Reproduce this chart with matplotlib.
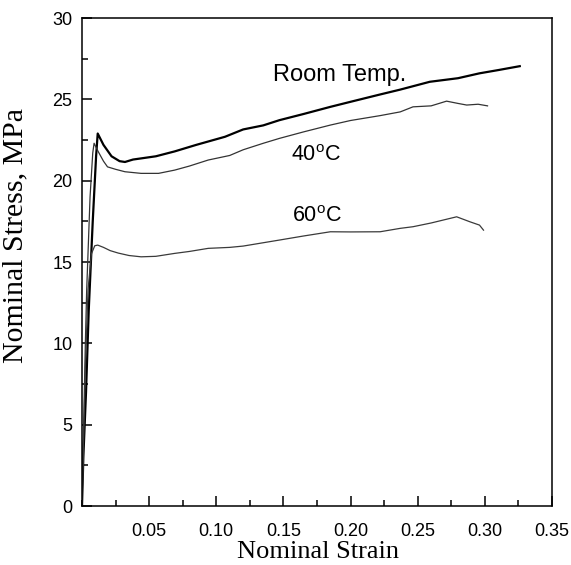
import matplotlib
matplotlib.use("Agg")
import matplotlib.pyplot as plt
from matplotlib.ticker import MultipleLocator, FixedLocator

# values (strain, stress in MPa)
room_strain = [0, 0.001, 0.003, 0.005, 0.008, 0.0105, 0.0117, 0.016, 0.022, 0.028,
               0.032, 0.038, 0.044, 0.055, 0.069, 0.085, 0.1065, 0.12, 0.135, 0.147,
               0.165, 0.185, 0.20, 0.222, 0.237, 0.259, 0.28, 0.296, 0.31, 0.326]
room_stress = [0, 3, 7, 12, 17.5, 21.5, 22.9, 22.2, 21.5, 21.2,
               21.15, 21.3, 21.37, 21.5, 21.8, 22.2, 22.7, 23.15, 23.4, 23.72,
               24.1, 24.54, 24.85, 25.3, 25.6, 26.08, 26.3, 26.6, 26.8, 27.04]

t40_strain = [0, 0.001, 0.0025, 0.0035, 0.006, 0.008, 0.009, 0.012, 0.016, 0.019,
              0.025, 0.032, 0.044, 0.057, 0.069, 0.08, 0.094, 0.11, 0.12, 0.135,
              0.147, 0.165, 0.185, 0.20, 0.222, 0.237, 0.2465, 0.26, 0.2715, 0.28,
              0.2865, 0.295, 0.302]
t40_stress = [0, 4, 10, 13.3, 19, 21.7, 22.3, 21.8, 21.2, 20.85,
              20.7, 20.55, 20.45, 20.45, 20.65, 20.9, 21.27, 21.55, 21.9, 22.3,
              22.6, 23.0, 23.42, 23.7, 24.0, 24.23, 24.54, 24.6, 24.89, 24.75,
              24.65, 24.7, 24.6]

t60_strain = [0, 0.001, 0.0025, 0.0045, 0.007, 0.0095, 0.0117, 0.016, 0.021, 0.027,
              0.035, 0.044, 0.055, 0.069, 0.08, 0.094, 0.11, 0.12, 0.147, 0.165,
              0.185, 0.20, 0.222, 0.237, 0.2465, 0.26, 0.279, 0.289, 0.296, 0.299]
t60_stress = [0, 3.5, 8.5, 13.3, 15.5, 16.0, 16.04, 15.9, 15.7, 15.55,
              15.4, 15.32, 15.35, 15.53, 15.65, 15.84, 15.9, 15.98, 16.35, 16.6,
              16.86, 16.85, 16.86, 17.07, 17.17, 17.4, 17.78, 17.47, 17.27, 16.96]

x_major = [0.05, 0.10, 0.15, 0.20, 0.25, 0.30, 0.35]
x_labels = ['0.05', '0.10', '0.15', '0.20', '0.25', '0.30', '0.35']

plt.rcParams['mathtext.fontset'] = 'custom'
plt.rcParams['mathtext.rm'] = 'Liberation Sans'

fig = plt.figure(figsize=(5.71, 5.65), dpi=100)
ax = fig.add_axes([0.1436, 0.1044, 0.8231, 0.8637])

ax.plot(room_strain, room_stress, color='black', lw=1.6)
ax.plot(t40_strain, t40_stress, color='#333333', lw=0.9)
ax.plot(t60_strain, t60_stress, color='#3a3a3a', lw=0.9)

ax.set_xlim(0, 0.35)
ax.set_ylim(0, 30)
ax.xaxis.set_major_locator(FixedLocator(x_major))
ax.set_xticklabels(x_labels)
ax.xaxis.set_minor_locator(MultipleLocator(0.025))
ax.yaxis.set_major_locator(MultipleLocator(5))
ax.yaxis.set_minor_locator(MultipleLocator(2.5))

for lab in ax.get_xticklabels() + ax.get_yticklabels():
    lab.set_family('Liberation Sans')
ax.tick_params(which='both', direction='in', top=False, right=False, width=1.1)
ax.tick_params(which='major', length=7.5, labelsize=13)
ax.tick_params(axis='x', which='major', pad=12)
ax.tick_params(axis='y', which='major', pad=7)
ax.tick_params(which='minor', length=4)
for s in ax.spines.values():
    s.set_linewidth(1.1)

ax.set_xlabel('Nominal Strain', family='Liberation Serif', fontsize=19)
ax.set_ylabel('Nominal Stress, MPa', family='Liberation Serif', fontsize=21.5)
ax.xaxis.set_label_coords(0.502, -0.071)
ax.yaxis.set_label_coords(-0.115, 0.555)

ax.text(0.1915, 26.5, 'Room Temp.', family='Liberation Sans', fontsize=17,
        ha='center', va='center')
ax.text(0.174, 21.55, r'40$^{\mathrm{o}}$C', family='Liberation Sans', fontsize=15.5,
        ha='center', va='center')
ax.text(0.175, 17.8, r'60$^{\mathrm{o}}$C', family='Liberation Sans', fontsize=15.5,
        ha='center', va='center')

fig.savefig('out.png', dpi=100)
